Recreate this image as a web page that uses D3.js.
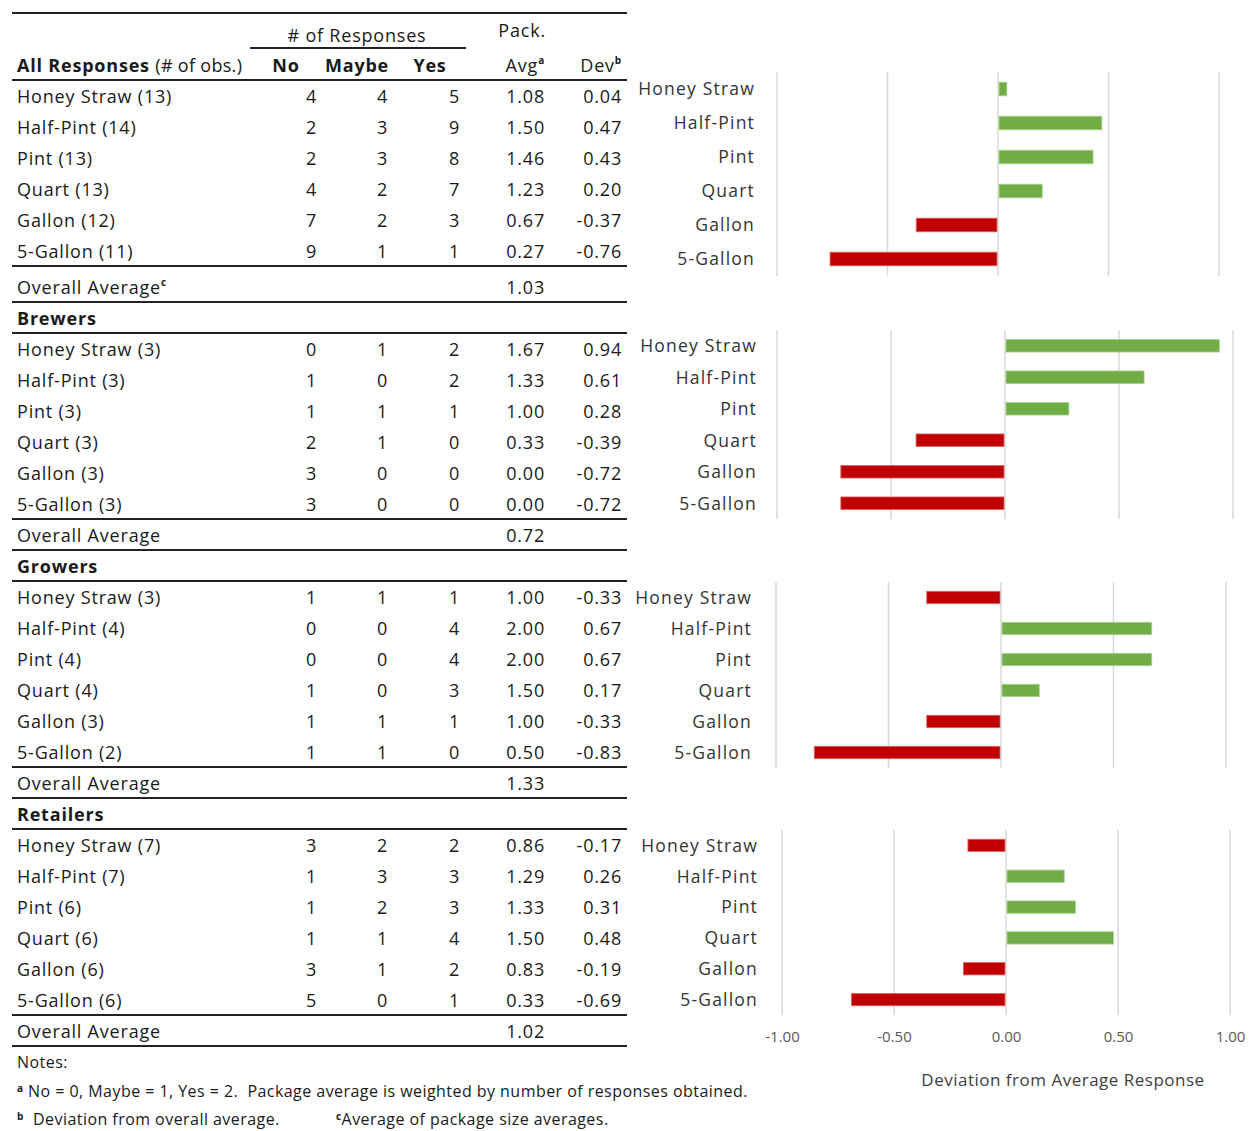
<!DOCTYPE html>
<html>
<head>
<meta charset="utf-8">
<script src="https://cdn.jsdelivr.net/npm/d3@7"></script>
<style>
  body { margin: 0; background: #fff; }
  svg text { font-family: "Open Sans", sans-serif; white-space: pre; }
</style>
</head>
<body>
<svg id="chart" width="1253" height="1131"></svg>
<script>
// package sizes and respondent groups
const sizes = ["Honey Straw", "Half-Pint", "Pint", "Quart", "Gallon", "5-Gallon"];
const groups = ["All Responses", "Brewers", "Growers", "Retailers"];

// per group, per package size
const obs = [[13, 14, 13, 13, 12, 11], [3, 3, 3, 3, 3, 3], [3, 4, 4, 4, 3, 2], [7, 7, 6, 6, 6, 6]];
const noCounts = [[4, 2, 2, 4, 7, 9], [0, 1, 1, 2, 3, 3], [1, 0, 0, 1, 1, 1], [3, 1, 1, 1, 3, 5]];
const maybeCounts = [[4, 3, 3, 2, 2, 1], [1, 0, 1, 1, 0, 0], [1, 0, 0, 0, 1, 1], [2, 3, 2, 1, 1, 0]];
const yesCounts = [[5, 9, 8, 7, 3, 1], [2, 2, 1, 0, 0, 0], [1, 4, 4, 3, 1, 0], [2, 3, 3, 4, 2, 1]];
const packAvg = [[1.08, 1.50, 1.46, 1.23, 0.67, 0.27], [1.67, 1.33, 1.00, 0.33, 0.00, 0.00],
                 [1.00, 2.00, 2.00, 1.50, 1.00, 0.50], [0.86, 1.29, 1.33, 1.50, 0.83, 0.33]];
const packDev = [[0.04, 0.47, 0.43, 0.20, -0.37, -0.76], [0.94, 0.61, 0.28, -0.39, -0.72, -0.72],
                 [-0.33, 0.67, 0.67, 0.17, -0.33, -0.83], [-0.17, 0.26, 0.31, 0.48, -0.19, -0.69]];
const overallAvg = [1.03, 0.72, 1.33, 1.02];
const devTicks = [-1, -0.5, 0, 0.5, 1];

const svg = d3.select("#chart");
// plain hyphen for negatives, like the original sheet
const fmt = d3.formatLocale({decimal: ".", thousands: ",", grouping: [3], currency: ["$", ""], minus: "-"}).format(".2f");
const ink = "#1a1a1a";

//---------------- table ----------------
const table = svg.append("g");
const tableLeft = 12, tableRight = 627, pitch = 31;
const col = {label: 17, no: 317, maybe: 388, yes: 460, avg: 545, dev: 622};

function hline(y, x0 = tableLeft, x1 = tableRight) {
  table.append("line")
    .attr("x1", x0).attr("x2", x1)
    .attr("y1", y).attr("y2", y)
    .attr("stroke", "#222").attr("stroke-width", 2);
}

function cell(x, y, txt, anchor = "start", weight = "normal") {
  return table.append("text")
    .attr("x", x).attr("y", y + 6.5)
    .attr("text-anchor", anchor)
    .attr("font-size", 18)
    .attr("letter-spacing", 0.8)
    .attr("font-weight", weight)
    .attr("fill", ink)
    .text(txt);
}

function sup(sel, s) {
  sel.append("tspan").attr("font-size", 10).attr("font-weight", "bold").attr("dy", "-0.75em").text(s);
}

// header
hline(13);
cell(357, 35, "# of Responses", "middle");
hline(48, 250, 466);
cell(546, 30, "Pack.", "end");

let hdr = cell(col.label, 65, "");
hdr.append("tspan").attr("font-weight", "bold").text("All Responses ");
hdr.append("tspan").attr("letter-spacing", 0.3).text("(# of obs.)");
cell(286, 65, "No", "middle", "bold");
cell(357, 65, "Maybe", "middle", "bold");
cell(430, 65, "Yes", "middle", "bold");
let avgH = cell(col.avg, 65, "Avg", "end"); sup(avgH, "a");
let devH = cell(col.dev, 65, "Dev", "end"); sup(devH, "b");
hline(80);

let cursor = 80;
groups.forEach((g, gi) => {
  if (gi > 0) {
    cell(col.label, cursor + 16, g, "start", "bold");
    cursor += pitch;
    hline(cursor);
  }
  sizes.forEach((s, i) => {
    const y = cursor + 16 + i * pitch;
    cell(col.label, y, `${s} (${obs[gi][i]})`);
    cell(col.no, y, noCounts[gi][i], "end");
    cell(col.maybe, y, maybeCounts[gi][i], "end");
    cell(col.yes, y, yesCounts[gi][i], "end");
    cell(col.avg, y, fmt(packAvg[gi][i]), "end");
    cell(col.dev, y, fmt(packDev[gi][i]), "end");
  });
  cursor += 6 * pitch;
  hline(cursor);
  const oh = gi === 0 ? 36 : pitch;
  let ov = cell(col.label, cursor + oh - 15, "Overall Average");
  if (gi === 0) sup(ov, "c");
  cell(col.avg, cursor + oh - 15, fmt(overallAvg[gi]), "end");
  cursor += oh;
  hline(cursor);
});

// notes
const notes = svg.append("g").attr("fill", ink).attr("font-size", 16).attr("letter-spacing", 0.45);
function note(x, y, mark, txt) {
  const t = notes.append("text").attr("x", x).attr("y", y + 5.5);
  if (mark) t.append("tspan").attr("font-size", 10).attr("font-weight", "bold").attr("dy", -5).text(mark);
  t.append("tspan").attr("dy", mark ? 5 : 0).text(txt);
}
note(17, 1062, null, "Notes:");
note(17, 1091, "a", " No = 0, Maybe = 1, Yes = 2.  Package average is weighted by number of responses obtained.");
note(17, 1119, "b", "  Deviation from overall average.");
note(336, 1119, "c", "Average of package size averages.");

//---------------- deviation bar panels ----------------
const panels = [
  {x0: 777, x1: 1219, y0: 72, y1: 276, lx: 755},
  {x0: 777, x1: 1233, y0: 330, y1: 519, lx: 757},
  {x0: 776, x1: 1226, y0: 582, y1: 768, lx: 752},
  {x0: 782, x1: 1230, y0: 830, y1: 1015, lx: 758}
];

panels.forEach((p, gi) => {
  const x = d3.scaleLinear().domain([-1, 1]).range([p.x0, p.x1]);
  const y = d3.scaleBand().domain(sizes).range([p.y0, p.y1])
    .paddingInner(0.6).paddingOuter(0.3);
  const g = svg.append("g");

  g.selectAll("line.grid").data(devTicks).join("line")
    .attr("class", "grid")
    .attr("x1", d => x(d)).attr("x2", d => x(d))
    .attr("y1", p.y0).attr("y2", p.y1)
    .attr("stroke", "#d9d9d9").attr("stroke-width", 1.5);

  const rows = sizes.map((s, i) => ({size: s, dev: packDev[gi][i]}));
  g.selectAll("rect").data(rows).join("rect")
    .attr("x", d => d.dev >= 0 ? x(0) + 1 : x(d.dev))
    .attr("width", d => Math.abs(x(d.dev) - x(0)) - 1)
    .attr("y", d => y(d.size))
    .attr("height", y.bandwidth())
    .attr("fill", d => d.dev >= 0 ? "#70ad47" : "#c00000")
    .attr("stroke", d => d.dev >= 0 ? "#a9d18e" : "#e06666")
    .attr("stroke-width", 0.8);

  g.selectAll("text.lbl").data(sizes).join("text")
    .attr("class", "lbl")
    .attr("x", p.lx)
    .attr("y", d => y(d) + y.bandwidth() / 2)
    .attr("dy", "0.36em")
    .attr("text-anchor", "end")
    .attr("font-size", 17.5)
    .attr("letter-spacing", 1.2)
    .attr("fill", "#333")
    .text(d => d);

  if (gi === panels.length - 1) {
    const axis = g.append("g")
      .attr("transform", `translate(0,${p.y1 + 13})`)
      .call(d3.axisBottom(x).tickValues(devTicks).tickFormat(fmt).tickSize(0).tickPadding(3));
    axis.select(".domain").remove();
    axis.selectAll("text")
      .attr("font-family", "'Open Sans', sans-serif")
      .attr("font-size", 15)
      .attr("fill", "#595959");
    g.append("text")
      .attr("x", 1063).attr("y", 1080).attr("dy", "0.36em")
      .attr("text-anchor", "middle")
      .attr("font-size", 17)
      .attr("letter-spacing", 0.5)
      .attr("fill", "#404040")
      .text("Deviation from Average Response");
  }
});
</script>
</body>
</html>
